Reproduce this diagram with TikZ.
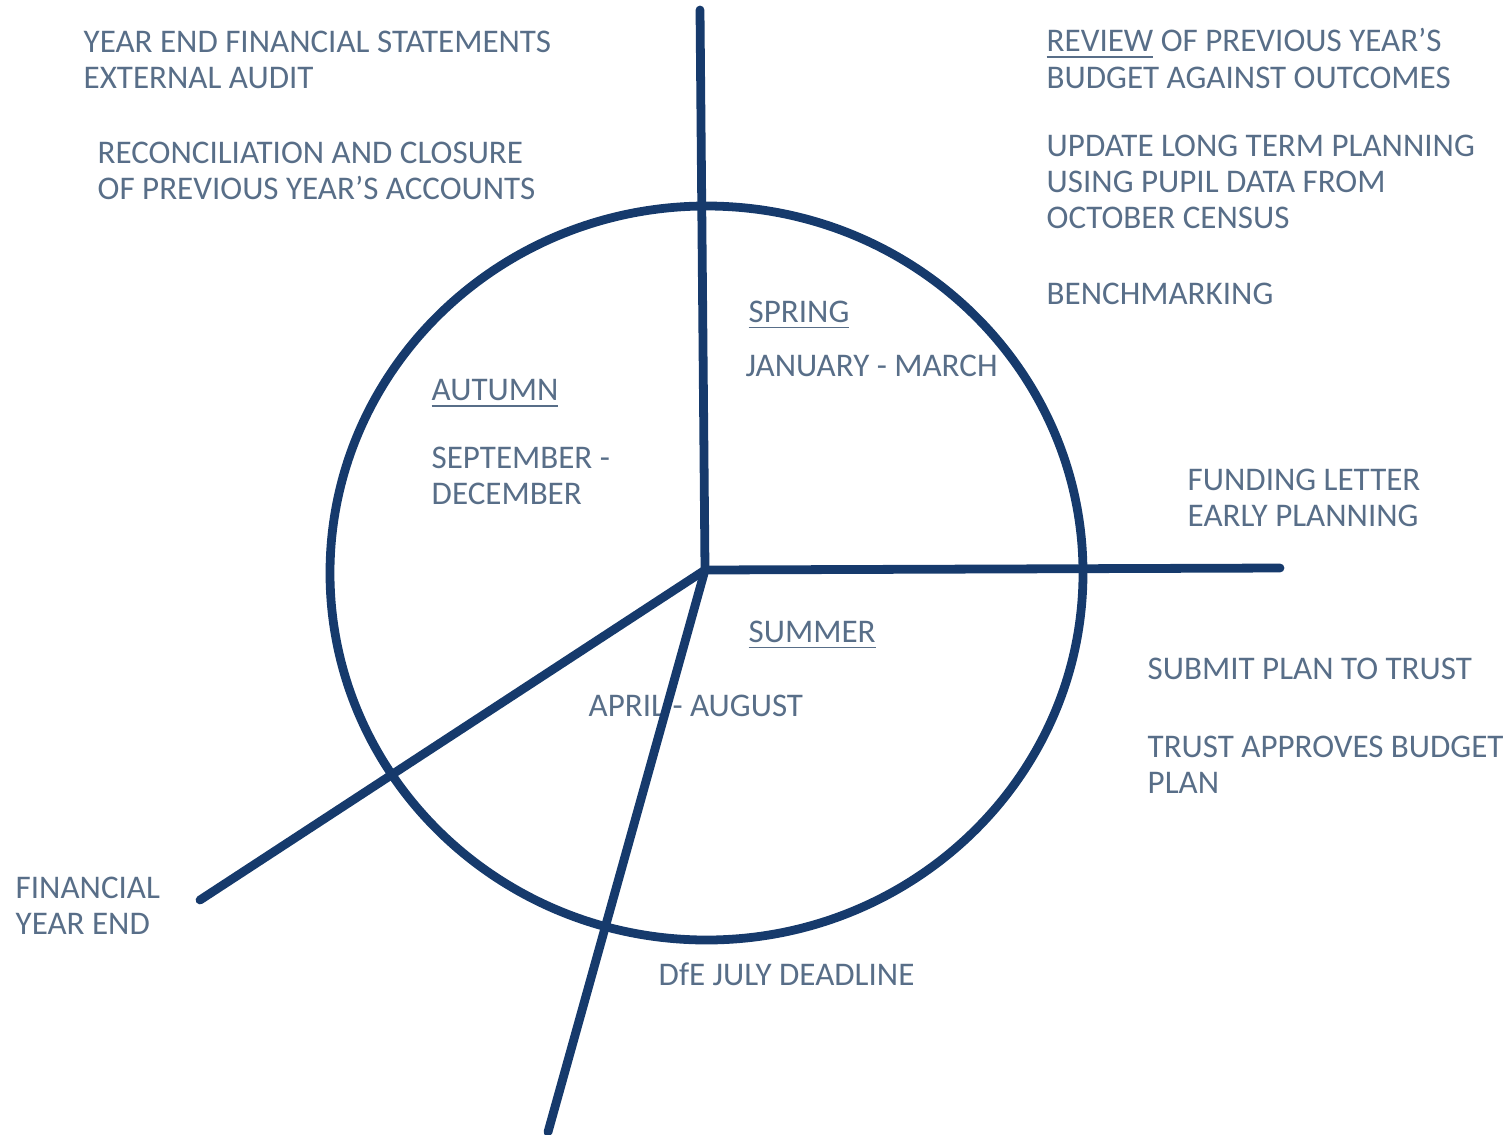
\documentclass[tikz,border=0pt]{standalone}
\usepackage{fontspec}
\setmainfont{Carlito}
\usepackage{tikz}
\usetikzlibrary{positioning}
\definecolor{linienblau}{RGB}{22,58,108}
\definecolor{textblau}{RGB}{88,110,136}

\begin{document}
\begin{tikzpicture}[
    linie/.style={line width=2.5pt, draw=linienblau, line cap=round},
    beschr/.style={anchor=north west, inner sep=0pt, align=left, text=textblau,
        font=\fontsize{9.4}{10.25}\selectfont}
]
    \useasboundingbox (0,0) rectangle (15.1,-11.34);
    % Mittelpunkt und Endpunkte der Linien
    \coordinate (O) at (7.05,-5.70);
    \coordinate (oben) at (7.00,-0.10);
    \coordinate (rechts) at (12.80,-5.68);
    \coordinate (links) at (2.00,-9.00);
    \coordinate (unten) at (5.48,-11.32);

    % Texte links oben
    \node[beschr] (audit) at (0.83,-0.30) {YEAR END FINANCIAL STATEMENTS\\EXTERNAL AUDIT};
    \node[beschr] (abschluss) at (0.97,-1.41) {RECONCILIATION AND CLOSURE\\OF PREVIOUS YEAR’S ACCOUNTS};

    % Texte rechts oben
    \node[beschr] (review) at (10.46,-0.28) {\underline{REVIEW} OF PREVIOUS YEAR’S\\BUDGET AGAINST OUTCOMES};
    \node[beschr] (update) at (10.46,-1.34) {UPDATE LONG TERM PLANNING\\USING PUPIL DATA FROM\\OCTOBER CENSUS};
    \node[beschr] (bench) at (10.46,-2.82) {BENCHMARKING};

    % Jahreszeiten
    \node[beschr] (spring) at (7.48,-3.00) {\underline{SPRING}};
    \node[beschr] (janmar) at (7.45,-3.54) {JANUARY - MARCH};
    \node[beschr] (autumn) at (4.31,-3.79) {\underline{AUTUMN}};
    \node[beschr] (sepdez) at (4.31,-4.46) {SEPTEMBER -\\DECEMBER};
    \node[beschr] (summer) at (7.48,-6.20) {\underline{SUMMER}};
    \node[beschr] (aprau) at (5.88,-6.94) {APRIL - AUGUST};

    % Texte rechts
    \node[beschr] (funding) at (11.87,-4.68) {FUNDING LETTER\\EARLY PLANNING};
    \node[beschr] (submit) at (11.47,-6.57) {SUBMIT PLAN TO TRUST};
    \node[beschr] (approve) at (11.47,-7.35) {TRUST APPROVES BUDGET\\PLAN};

    % Texte unten
    \node[beschr] (fye) at (0.15,-8.76) {FINANCIAL\\YEAR END};
    \node[beschr] (dfe) at (6.58,-9.62) {DfE JULY DEADLINE};

    % Kreis
    \draw[linie] (7.065,-5.73) ellipse (3.765 and 3.67);

    % Linien vom Mittelpunkt
    \foreach \ende in {oben,rechts,links,unten} {
        \draw[linie] (O) -- (\ende);
    }
\end{tikzpicture}
\end{document}
